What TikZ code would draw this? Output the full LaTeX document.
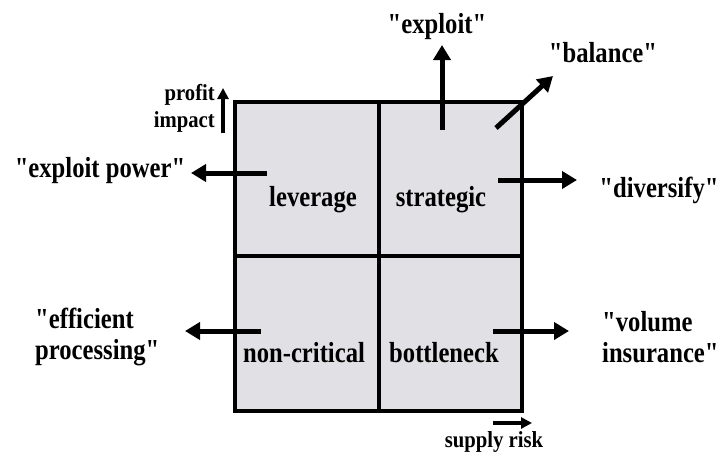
\documentclass[tikz,border=0pt]{standalone}
\usepackage{fontspec}
\setmainfont{Liberation Serif}
\usetikzlibrary{arrows.meta}

\definecolor{boxgray}{RGB}{225,224,228}
\newcommand{\qt}{\textquotedbl}

\tikzset{
	lbl/.style={font=\bfseries\fontsize{29}{31}\selectfont, xscale=0.85, inner sep=0pt},
	small/.style={font=\bfseries\fontsize{23}{27}\selectfont, xscale=0.9, inner sep=0pt},
	arr/.style={line width=5pt, -{Triangle[length=15pt,width=17pt]}},
	smallarr/.style={line width=4pt, -{Triangle[length=11pt,width=11pt]}}
}

\begin{document}
\begin{tikzpicture}[x=1pt,y=-1pt]
		\useasboundingbox (0,0) rectangle (720,455);
		% the matrix
		\fill[boxgray] (235,102) rectangle (522,411);
		\draw[line width=4.5pt] (235,102) rectangle (522,411);
		\draw[line width=4.5pt] (379,102) -- (379,411);
		\draw[line width=4.5pt] (235,256) -- (522,256);
		% quadrants
		\node[lbl, anchor=base] (leverage) at (313,206) {leverage};
		\node[lbl, anchor=base] (strategic) at (441,206) {strategic};
		\node[lbl, anchor=base] (noncritical) at (304,362) {non-critical};
		\node[lbl, anchor=base] (bottleneck) at (444,362) {bottleneck};
		% strategies
		\node[lbl, anchor=base] (exploit) at (437,33) {\qt exploit\qt};
		\node[lbl, anchor=base] (balance) at (603,62) {\qt balance\qt};
		\node[lbl, anchor=base] (exploitpower) at (100,177) {\qt exploit power\qt};
		\node[lbl, anchor=base] (diversify) at (659,197) {\qt diversify\qt};
		\node[lbl, anchor=west, align=left] (efficient) at (35,337) {\qt efficient\\processing\qt};
		\node[lbl, anchor=west, align=left] (volume) at (602,337) {\qt volume\\insurance\qt};
		% axes
		\node[small, anchor=east, align=right] (profit) at (215,108) {profit\\impact};
		\node[small, anchor=base] (supply) at (494,447) {supply risk};
		% arrows
		\coordinate (exploitT) at (442,130);
		\coordinate (exploitH) at (442,45);
		\coordinate (balanceT) at (496,128);
		\coordinate (balanceH) at (553,76);
		\coordinate (powerT) at (267,173);
		\coordinate (powerH) at (191,173);
		\coordinate (diversifyT) at (498,180);
		\coordinate (diversifyH) at (577,180);
		\coordinate (efficientT) at (261,331);
		\coordinate (efficientH) at (185,331);
		\coordinate (volumeT) at (493,331);
		\coordinate (volumeH) at (569,331);
		\coordinate (profitT) at (223,133);
		\coordinate (profitH) at (223,88);
		\coordinate (supplyT) at (493,423);
		\coordinate (supplyH) at (532,423);
		\draw[arr] (exploitT) -- (exploitH);
		\draw[arr] (balanceT) -- (balanceH);
		\draw[arr] (powerT) -- (powerH);
		\draw[arr] (diversifyT) -- (diversifyH);
		\draw[arr] (efficientT) -- (efficientH);
		\draw[arr] (volumeT) -- (volumeH);
		\draw[smallarr] (profitT) -- (profitH);
		\draw[smallarr] (supplyT) -- (supplyH);
	\end{tikzpicture}
\end{document}
